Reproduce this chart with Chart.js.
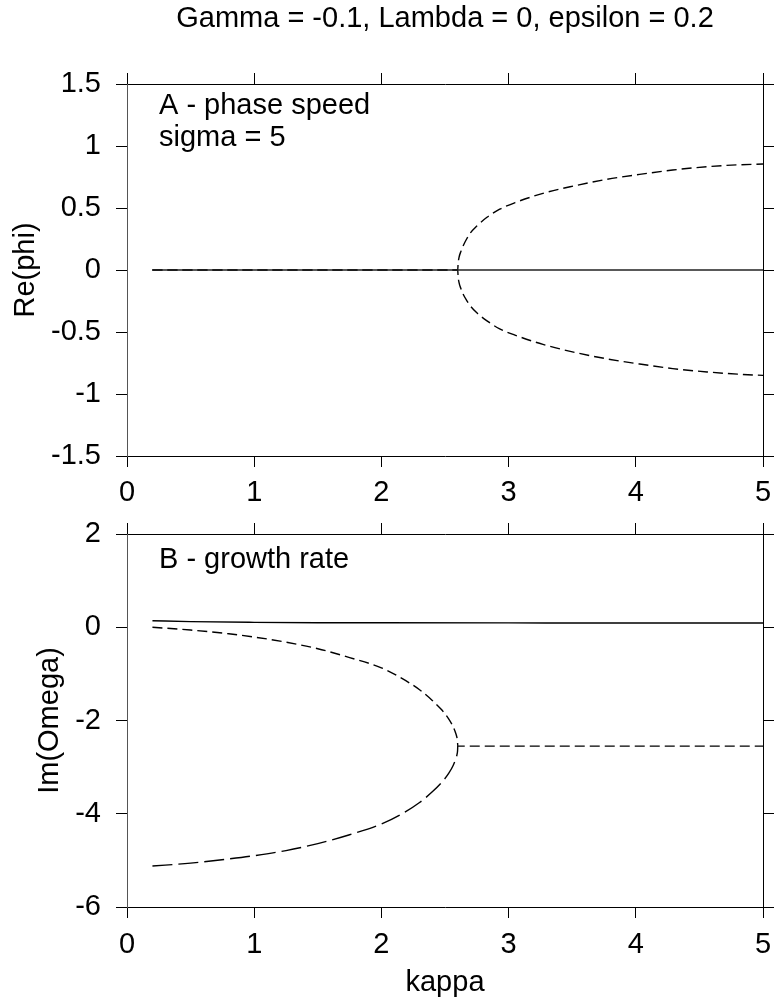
<!DOCTYPE html>
<html><head><meta charset="utf-8">
<script src="https://cdn.jsdelivr.net/npm/chart.js@4/dist/chart.umd.min.js"></script>
<style>
html,body{margin:0;padding:0;background:#fff;}
#p1{position:absolute;left:0;top:0;width:774px;height:520px;}
#p2{position:absolute;left:0;top:520px;width:774px;height:484px;}
</style></head><body>
<div id="p1"><canvas id="c1" width="774" height="520"></canvas></div>
<div id="p2"><canvas id="c2" width="774" height="484"></canvas></div>
<script>
// ---- text ----
const titleText = 'Gamma = -0.1, Lambda = 0, epsilon = 0.2';
const xTitleText = 'kappa';
const yTitleA = 'Re(phi)';
const yTitleB = 'Im(Omega)';
const notesA = ['A - phase speed', 'sigma = 5'];
const notesB = ['B - growth rate'];

// ---- ticks ----
const kappaTicks = [0, 1, 2, 3, 4, 5];
const reTicks = [-1.5, -1, -0.5, 0, 0.5, 1, 1.5];
const imTicks = [-6, -4, -2, 0, 2];

// ---- panel A : Re(phi) ----
const kappaSolidA = [0.2, 1, 2, 3, 4, 5];
const reSolid = [0, 0, 0, 0, 0, 0];
const kappaBranchA = [0.2, 1.0, 2.0, 2.6, 2.603, 2.61, 2.625, 2.645, 2.67, 2.70, 2.75, 2.83, 2.93, 3.05, 3.27, 3.51, 3.77, 4.03, 4.29, 4.56, 4.8, 5.0];
const reUpper = [0, 0, 0, 0, 0.05, 0.10, 0.15, 0.20, 0.25, 0.30, 0.355, 0.425, 0.49, 0.543, 0.618, 0.677, 0.731, 0.771, 0.806, 0.833, 0.848, 0.855];
const reLower = [0, 0, 0, 0, -0.05, -0.10, -0.15, -0.20, -0.245, -0.29, -0.345, -0.41, -0.475, -0.525, -0.60, -0.662, -0.716, -0.758, -0.795, -0.822, -0.84, -0.85];

// ---- panel B : Im(Omega) ----
const kappaSolidB = [0.2, 0.5, 1.0, 1.5, 2.0, 3.0, 4.0, 5.0];
const imSolid = [0.14, 0.12, 0.105, 0.098, 0.095, 0.093, 0.092, 0.092];
const kappaUpperB = [0.2, 0.5, 0.8, 1.0, 1.25, 1.5, 1.75, 2.0, 2.15, 2.3, 2.4, 2.47, 2.53, 2.565, 2.585, 2.595, 2.599, 2.6, 5.0];
const imUpper = [0, -0.06, -0.14, -0.21, -0.32, -0.46, -0.65, -0.87, -1.08, -1.34, -1.57, -1.76, -1.97, -2.14, -2.28, -2.38, -2.46, -2.55, -2.55];
const kappaLowerB = [0.2, 0.5, 0.8, 1.0, 1.25, 1.5, 1.75, 2.0, 2.15, 2.3, 2.4, 2.47, 2.53, 2.565, 2.585, 2.595, 2.599, 2.6];
const imLower = [-5.12, -5.06, -4.97, -4.90, -4.79, -4.64, -4.45, -4.22, -4.02, -3.76, -3.53, -3.34, -3.13, -2.96, -2.82, -2.72, -2.64, -2.55];

const FONT = '"Liberation Sans", Arial, Helvetica, sans-serif';
const FS = 29;
const pts = (xs, ys) => xs.map((x, i) => ({x, y: ys[i]}));
const fmt = v => String(v);

function line(xs, ys, dash, width, color, order) {
  return {data: pts(xs, ys), showLine: true, borderColor: color, backgroundColor: color,
    borderWidth: width, borderDash: dash, pointRadius: 0, tension: 0.4, cubicInterpolationMode: 'monotone', order, fill: false};
}

const notesPlugin = {
  id: 'notes',
  afterDraw(chart, args, opts) {
    const ctx = chart.ctx, a = chart.chartArea;
    ctx.save();
    ctx.font = FS + 'px ' + FONT;
    ctx.fillStyle = '#000';
    ctx.textBaseline = 'alphabetic';
    ctx.textAlign = 'left';
    (opts.lines || []).forEach((t, i) => ctx.fillText(t, a.left + 32, a.top + opts.first + i * opts.step));
    ctx.restore();
  }
};

function makeChart(id, cfg) {
  const grid = {drawOnChartArea: false, drawTicks: true, tickLength: 11, color: '#000', lineWidth: 1};
  const border = {color: '#000', width: 1};
  const tickFont = {family: FONT, size: FS};
  const noPadX = s => { s.paddingLeft = 0; s.paddingRight = 0; };
  const noPadY = s => { s.paddingTop = 0; s.paddingBottom = 0; };
  return new Chart(document.getElementById(id), {
    type: 'scatter',
    data: {datasets: cfg.datasets},
    options: {
      responsive: false, animation: false, devicePixelRatio: 1,
      layout: {padding: 0},
      plugins: {legend: {display: false}, tooltip: {enabled: false}, title: {display: false},
        notes: {lines: cfg.notes, first: cfg.noteFirst, step: 32}},
      scales: {
        x: {type: 'linear', position: 'bottom', min: 0, max: 5,
          afterBuildTicks: s => { s.ticks = kappaTicks.map(v => ({value: v})); },
          afterFit: s => { s.height = cfg.bottomH; noPadX(s); },
          ticks: {font: tickFont, color: '#000', padding: cfg.xPad, maxRotation: 0, autoSkip: false, callback: fmt},
          grid, border,
          title: {display: !!cfg.xTitle, text: cfg.xTitle || '', color: '#000', font: {family: FONT, size: FS}, padding: {top: 0, bottom: 4}}},
        x2: {type: 'linear', axis: 'x', position: 'top', min: 0, max: 5,
          afterBuildTicks: s => { s.ticks = kappaTicks.map(v => ({value: v})); },
          afterFit: s => { s.height = cfg.topH; noPadX(s); },
          ticks: {display: false},
          grid, border,
          title: {display: !!cfg.topTitle, text: cfg.topTitle || '', color: '#000', font: {family: FONT, size: FS}, padding: {top: 2, bottom: 0}}},
        y: {type: 'linear', position: 'left', min: cfg.yMin, max: cfg.yMax,
          afterBuildTicks: s => { s.ticks = cfg.yTicks.map(v => ({value: v})); },
          afterFit: s => { s.width = 127; noPadY(s); },
          ticks: {font: tickFont, color: '#000', padding: 15, callback: fmt},
          grid, border: {color: '#555', width: 1},
          title: {display: true, text: cfg.yTitle, color: '#000', font: {family: FONT, size: FS}, padding: {top: cfg.yTitlePad, bottom: 0}}},
        y2: {type: 'linear', axis: 'y', position: 'right', min: cfg.yMin, max: cfg.yMax,
          afterBuildTicks: s => { s.ticks = cfg.yTicks.map(v => ({value: v})); },
          afterFit: s => { s.width = 11; noPadY(s); },
          ticks: {display: false},
          grid, border}
      }
    },
    plugins: [notesPlugin]
  });
}

makeChart('c1', {
  datasets: [
    line(kappaSolidA, reSolid, [], 1.3, '#222', 0),
    line(kappaBranchA, reUpper, [10, 5], 1.4, '#000', 1),
    line(kappaBranchA, reLower, [10, 5], 1.4, '#000', 2)
  ],
  yMin: -1.5, yMax: 1.5, yTicks: reTicks, yTitle: yTitleA, yTitlePad: 9,
  topTitle: titleText, topH: 84, bottomH: 64, xPad: 9,
  notes: notesA, noteFirst: 30
});

makeChart('c2', {
  datasets: [
    line(kappaSolidB, imSolid, [], 1.4, '#000', 0),
    line(kappaUpperB, imUpper, [10, 5], 1.4, '#000', 1),
    line(kappaLowerB, imLower, [20, 6], 1.4, '#000', 2)
  ],
  yMin: -6, yMax: 2, yTicks: imTicks, yTitle: yTitleB, yTitlePad: 33,
  xTitle: xTitleText, topTitle: '', topH: 14, bottomH: 97, xPad: 10,
  notes: notesB, noteFirst: 34
});
</script>
</body></html>
